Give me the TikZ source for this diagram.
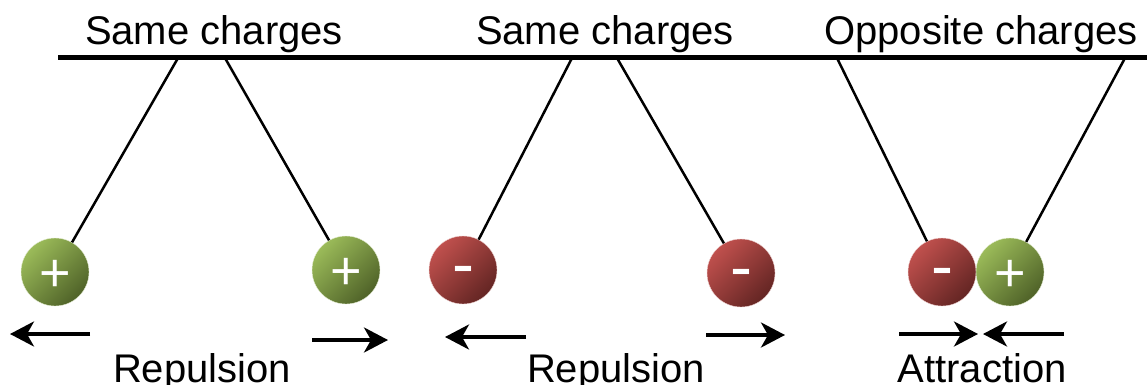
\documentclass[tikz,border=0pt]{standalone}
\usepackage{fontspec}
\setmainfont{Liberation Sans}
\usetikzlibrary{arrows.meta}
\definecolor{glight}{HTML}{9BBB59}
\definecolor{gdark}{HTML}{4F6228}
\definecolor{rlight}{HTML}{C0504D}
\definecolor{rdark}{HTML}{632523}
\begin{document}
\begin{tikzpicture}[x=1pt,y=-1pt,
  caption/.style={anchor=base, inner sep=0pt, font=\fontsize{40}{40}\selectfont},
  ballbase/.style={circle, minimum size=68pt, inner sep=0pt},
  posball/.style={ballbase, top color=glight, bottom color=gdark, shading angle=45,
                  draw=glight!25!white, line width=0.4pt},
  negball/.style={ballbase, top color=rlight, bottom color=rdark, shading angle=45,
                  draw=rlight!25!white, line width=0.4pt},
  sign/.style={text=white, inner sep=0pt, anchor=base},
  plussign/.style={sign, font=\fontsize{54}{54}\selectfont},
  minussign/.style={sign, font=\fontsize{66}{66}\selectfont},
  thread/.style={line width=2.5pt},
  force/.style={line width=3.5pt, -{Stealth[length=24pt,width=25pt,inset=7pt]}}
]
\useasboundingbox (0,0) rectangle (1147,385);

% support bar
\coordinate (barL) at (58,57.3);
\coordinate (barR) at (1147,57.3);
\draw[line width=5pt] (barL) -- (barR);

% headings
\node[caption] (h1) at (214,45) {Same charges};
\node[caption] (h2) at (605,45) {Same charges};
\node[caption] (h3) at (981,45) {Opposite charges};

% charged balls
\node[posball] (b1) at (55,272) {};
\node[posball] (b2) at (346,270) {};
\node[negball] (b3) at (463,270) {};
\node[negball] (b4) at (741,273) {};
\node[negball] (b5) at (942,272) {};
\node[posball] (b6) at (1010,272) {};

\node[plussign]  (s1) at ([yshift=-19.4pt]b1.center) {+};
\node[plussign]  (s2) at ([yshift=-19.4pt]b2.center) {+};
\node[minussign] (s3) at ([yshift=-16pt]b3.center) {-};
\node[minussign] (s4) at ([yshift=-16pt]b4.center) {-};
\node[minussign] (s5) at ([yshift=-16pt]b5.center) {-};
\node[plussign]  (s6) at ([yshift=-19.4pt]b6.center) {+};

% threads hanging from the bar
\coordinate (t1) at (178,58);
\coordinate (t2) at (225,58);
\coordinate (t3) at (572,58);
\coordinate (t4) at (617,58);
\coordinate (t5) at (837,58);
\coordinate (t6) at (1125,58);
\draw[thread] (t1) -- (b1);
\draw[thread] (t2) -- (b2);
\draw[thread] (t3) -- (b3);
\draw[thread] (t4) -- (b4);
\draw[thread] (t5) -- (b5);
\draw[thread] (t6) -- (b6);

% force arrows
\coordinate (f1a) at (90,334);   \coordinate (f1b) at (10,334);
\coordinate (f2a) at (312,340);  \coordinate (f2b) at (388,340);
\coordinate (f3a) at (526,337);  \coordinate (f3b) at (445,337);
\coordinate (f4a) at (706,335);  \coordinate (f4b) at (785,335);
\coordinate (f5a) at (899,334);  \coordinate (f5b) at (978,334);
\coordinate (f6a) at (1064,334); \coordinate (f6b) at (983,334);
\draw[force] (f1a) -- (f1b);
\draw[force] (f2a) -- (f2b);
\draw[force] (f3a) -- (f3b);
\draw[force] (f4a) -- (f4b);
\draw[force] (f5a) -- (f5b);
\draw[force] (f6a) -- (f6b);

% labels under the arrows, running off the lower edge
\node[caption] (l1) at (202,382) {Repulsion};
\node[caption] (l2) at (616,382) {Repulsion};
\node[caption] (l3) at (982,382) {Attraction};
\end{tikzpicture}
\end{document}
